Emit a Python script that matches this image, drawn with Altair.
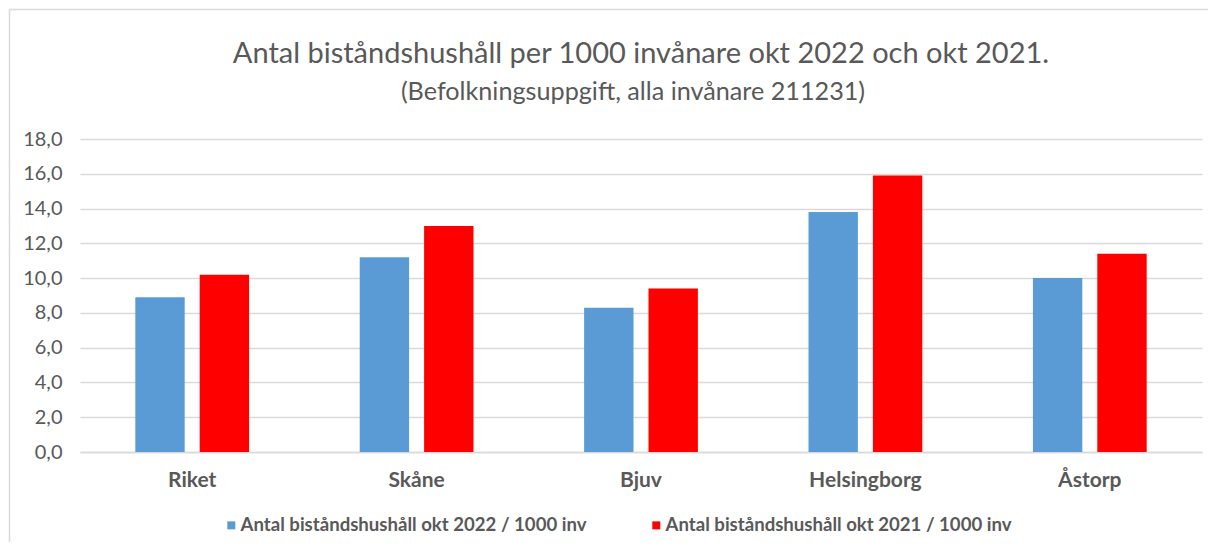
import altair as alt
import pandas as pd

categories = ["Riket", "Skåne", "Bjuv", "Helsingborg", "Åstorp"]
series_names = [
    "Antal biståndshushåll okt 2022 / 1000 inv",
    "Antal biståndshushåll okt 2021 / 1000 inv",
]
values_2022 = [8.9, 11.2, 8.3, 13.8, 10.0]
values_2021 = [10.2, 13.0, 9.4, 15.9, 11.4]
colors = ["#5B9BD5", "#FF0000"]
y_ticks = [0, 2, 4, 6, 8, 10, 12, 14, 16, 18]

title_text = "Antal biståndshushåll per 1000 invånare okt 2022 och okt 2021."
subtitle_text = "(Befolkningsuppgift, alla invånare 211231)"

rows = []
for c, a, b in zip(categories, values_2022, values_2021):
    rows.append({"kategori": c, "serie": series_names[0], "varde": a})
    rows.append({"kategori": c, "serie": series_names[1], "varde": b})
df = pd.DataFrame(rows)

FONT = "Lato"
GREY = "#595959"

bars = alt.Chart(df).mark_bar().encode(
    x=alt.X(
        "kategori:N",
        sort=categories,
        scale=alt.Scale(paddingInner=0.493, paddingOuter=0.2465),
        axis=alt.Axis(
            title=None, labelAngle=0, labelFont=FONT, labelFontWeight="bold",
            labelFontSize=21, labelColor=GREY, ticks=False,
            domainColor="#D9D9D9", domainWidth=1.5, labelPadding=17,
        ),
    ),
    xOffset=alt.XOffset("serie:N", sort=series_names, scale=alt.Scale(paddingInner=0.233)),
    y=alt.Y(
        "varde:Q",
        scale=alt.Scale(domain=[0, 18], nice=False),
        axis=alt.Axis(
            values=y_ticks, title=None, domain=False, ticks=False,
            labelExpr="replace(format(datum.value, '.1f'), '.', ',')",
            gridColor="#D9D9D9", gridWidth=1.5, labelPadding=18,
            labelFont=FONT, labelFontSize=20, labelColor=GREY,
        ),
    ),
    color=alt.Color(
        "serie:N",
        sort=series_names,
        scale=alt.Scale(domain=series_names, range=colors),
        legend=alt.Legend(
            title=None, orient="none", direction="horizontal",
            legendX=142, legendY=377, symbolType="square", symbolSize=64,
            symbolStrokeWidth=0, labelFont=FONT, labelFontWeight="bold",
            labelFontSize=18.6, labelColor=GREY, columnPadding=60, labelOffset=0,
            labelLimit=600,
        ),
    ),
)

border = alt.Chart(alt.Data(values=[{}])).mark_rule(color="#D9D9D9", strokeWidth=1.5).encode(
    x=alt.value(-70.5), y=alt.value(-129.5), y2=alt.value(500)
)
border_top = alt.Chart(alt.Data(values=[{}])).mark_rule(color="#D9D9D9", strokeWidth=1.5).encode(
    x=alt.value(-70.5), x2=alt.value(1300), y=alt.value(-129.5)
)

title_mark = alt.Chart(alt.Data(values=[{"t": title_text}])).mark_text(
    font=FONT, fontSize=29, color=GREY, align="center", baseline="alphabetic"
).encode(text="t:N", x=alt.value(561), y=alt.value(-76))

subtitle_mark = alt.Chart(alt.Data(values=[{"t": subtitle_text}])).mark_text(
    font=FONT, fontSize=25.2, color=GREY, align="center", baseline="alphabetic"
).encode(text="t:N", x=alt.value(553), y=alt.value(-39))

chart = alt.layer(bars, border, border_top, title_mark, subtitle_mark).properties(
    width=1122,
    height=313,
    padding={"left": 72, "top": 131, "right": 6, "bottom": 90},
    autosize=alt.AutoSizeParams(type="none"),
).configure_view(stroke=None)

chart.save("out.html", embed_options={"renderer": "svg", "actions": False})
